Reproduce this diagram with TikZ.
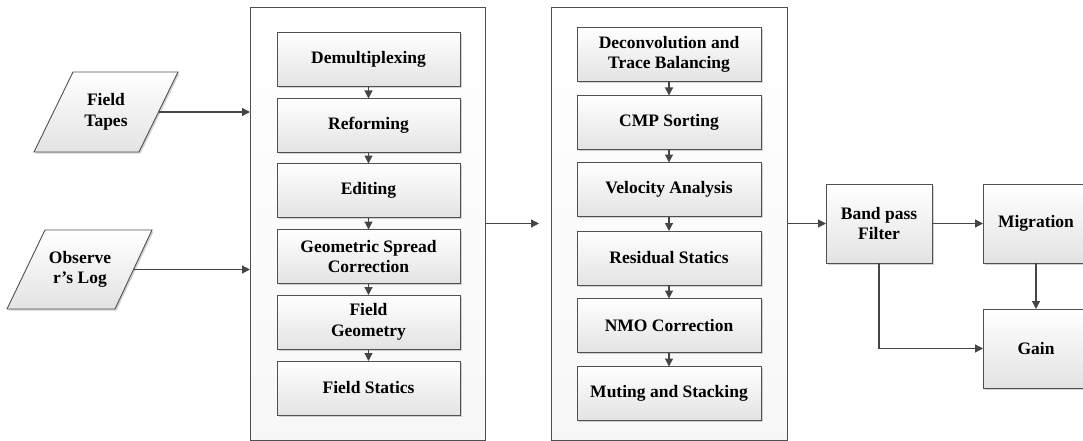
\documentclass[tikz,border=0pt]{standalone}
\usepackage{fontspec}
\setmainfont{Liberation Serif}
\usetikzlibrary{arrows.meta,shadows,positioning}
\definecolor{edge}{HTML}{505050}
\definecolor{wire}{HTML}{454545}
\begin{document}
\begin{tikzpicture}[x=1pt,y=-1pt,
  font=\fontsize{17.5}{20.5}\selectfont\bfseries,
  panel/.style={draw=edge,line width=0.9pt,top color=white,bottom color=gray!6,
    inner sep=0pt,outer sep=0pt,minimum width=#1,minimum height=433pt},
  stage/.style={draw=edge,line width=0.9pt,top color=white,bottom color=gray!22,
    drop shadow={shadow xshift=1.6pt,shadow yshift=-1.6pt,opacity=0.35,fill=gray},
    inner sep=0pt,outer sep=0pt,align=center,minimum width=#1,minimum height=54pt},
  block/.style={draw=edge,line width=0.9pt,top color=white,bottom color=gray!22,
    drop shadow={shadow xshift=1.6pt,shadow yshift=-1.6pt,opacity=0.35,fill=gray},
    inner sep=0pt,outer sep=0pt,align=center,minimum width=106pt,minimum height=79pt},
  tape/.style={draw=edge,line width=0.9pt,top color=white,bottom color=gray!22,
    drop shadow={shadow xshift=1.6pt,shadow yshift=-1.6pt,opacity=0.35,fill=gray}},
  label/.style={align=center,inner sep=0pt},
  arr/.style={draw=wire,line width=1.2pt,-{Triangle[length=8pt,width=8pt]}}]
\useasboundingbox (0,0) rectangle (1083,441);

% input data sets
\path[tape] (73,72) -- (178,72) -- (139,152) -- (34,152) -- cycle;
\node[label] (ft) at (106,112) {Field\\Tapes};
\coordinate (ftR) at (158.5,112);
\path[tape] (45,230) -- (152,230) -- (115,309) -- (7,309) -- cycle;
\node[label] (ol) at (80,269.5) {Observe\\r’s Log};
\coordinate (olR) at (133.5,269.5);

% pre-processing panel
\node[panel=235pt] (p1) at (367.5,223.5) {};
\node[stage=183pt] (a1) at (368.5,59.5)  {Demultiplexing};
\node[stage=183pt] (a2) at (368.5,125.5) {Reforming};
\node[stage=183pt] (a3) at (368.5,190.5) {Editing};
\node[stage=183pt] (a4) at (368.5,256.5) {Geometric Spread\\Correction};
\node[stage=183pt] (a5) at (368.5,322)   {Field\\Geometry};
\node[stage=183pt] (a6) at (368.5,388)   {Field Statics};

% processing panel
\node[panel=236pt] (p2) at (669,223.5) {};
\node[stage=184pt] (b1) at (669,54.5)  {Deconvolution and\\Trace Balancing};
\node[stage=184pt] (b2) at (669,122.5) {CMP Sorting};
\node[stage=184pt] (b3) at (669,189.5) {Velocity Analysis};
\node[stage=184pt] (b4) at (669,258)   {Residual Statics};
\node[stage=184pt] (b5) at (669,325.5) {NMO Correction};
\node[stage=184pt] (b6) at (669,393.5) {Muting and Stacking};

% post-processing
\node[block] (bp)  at (879,223.5)  {Band pass\\Filter};
\node[block] (mig) at (1036,223.5) {Migration};
\node[block] (gn)  at (1036,348.5) {Gain};

% connectors
\draw[arr] (ftR) -- (ftR -| p1.west);
\draw[arr] (olR) -- (olR -| p1.west);
\foreach \u/\v in {a1/a2,a2/a3,a3/a4,a4/a5,a5/a6,b1/b2,b2/b3,b3/b4,b4/b5,b5/b6}
  \draw[arr] (\u.south) -- (\v.north);
\coordinate (gapEnd) at (539,223.5);
\draw[arr] (p1.east |- gapEnd) -- (gapEnd);
\draw[arr] (p2.east |- bp.west) -- (bp.west);
\draw[arr] (bp.east) -- (mig.west);
\draw[arr] (mig.south) -- (gn.north);
\draw[arr] (bp.south) |- (gn.west);
\end{tikzpicture}
\end{document}
